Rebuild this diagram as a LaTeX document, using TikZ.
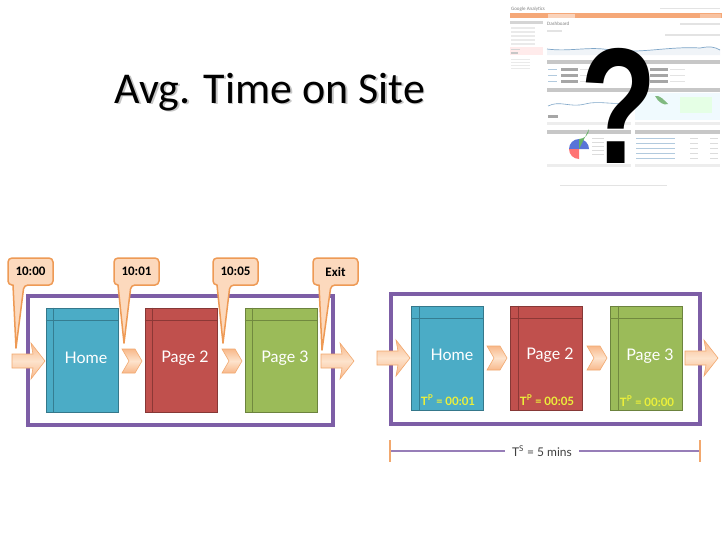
\documentclass[tikz,border=0pt]{standalone}
\usepackage{fontspec}
\setmainfont{Carlito}
\newfontfamily\pagefont{Lato}
\newfontfamily\qfont{Liberation Sans}
\usetikzlibrary{calc}
\definecolor{pblue}{HTML}{4BACC6}
\definecolor{pbluedk}{HTML}{357D91}
\definecolor{pred}{HTML}{C0504D}
\definecolor{preddk}{HTML}{8C3836}
\definecolor{pgreen}{HTML}{9BBB59}
\definecolor{pgreendk}{HTML}{71893F}
\definecolor{frame}{HTML}{7D5EA6}
\definecolor{arrowlt}{HTML}{FDE3CC}
\definecolor{arrowdk}{HTML}{F8B88A}
\definecolor{arrowbd}{HTML}{F2A86E}
\definecolor{callfill}{HTML}{FCD9BD}
\definecolor{callbd}{HTML}{EE9A55}
\definecolor{tpyellow}{HTML}{ECF03A}
\definecolor{gaorange}{HTML}{F5A878}
\definecolor{gagray}{HTML}{B9B9B9}
\definecolor{galine}{HTML}{7FA6C8}
\tikzset{
  pagebox/.style={draw=#1!70!black, line width=0.8pt, minimum width=72pt, minimum height=104pt, inner sep=0pt},
  pagelabel/.style={font=\pagefont\fontsize{16}{16}\selectfont, text=white},
  tplabel/.style={font=\pagefont\bfseries\fontsize{11.5}{12}\selectfont, text=tpyellow, inner sep=0pt},
  framebox/.style={draw=frame, line width=4.5pt},
  arrowshape/.style={draw=arrowbd, line width=0.6pt, top color=arrowdk, bottom color=arrowdk, middle color=arrowlt},
  callout/.style={draw=callbd, line width=1.5pt, fill=callfill, line join=round},
  calltext/.style={font=\bfseries\fontsize{13}{13}\selectfont},
  chev/.pic={\path[arrowshape] (0,-12) -- (13,-12) -- (20,0) -- (13,12) -- (0,12) -- (7,0) -- cycle;},
  bigarrow/.pic={\path[arrowshape] (0,-7) -- (21,-7) -- (19,-18) -- (33,0) -- (19,18) -- (21,7) -- (0,7) -- cycle;},
}
\newcommand{\innerlines}[2]{%
  \draw[#2, line width=0.8pt] ($(#1.north west)+(8,0)$) -- ($(#1.south west)+(8,0)$);
  \draw[#2, line width=0.8pt] ($(#1.north west)+(0,13)$) -- ($(#1.north east)+(0,13)$);}
\begin{document}
\begin{tikzpicture}[x=1pt,y=-1pt]
\useasboundingbox (0,0) rectangle (728,546);
\fill[white] (0,0) rectangle (728,546);

% ---------- dashboard screenshot ----------
\node[font=\fontsize{5}{5}\selectfont, text=gray, anchor=west, inner sep=0] (galogo) at (511,9) {Google Analytics};
\fill[gagray!40] (660,7.5) rectangle (720,9);
\fill[gaorange] (510,13) rectangle (722,18);
\fill[gaorange!50] (548,13.5) rectangle (575,17.5);
\fill[gaorange!70!white] (700,13.5) rectangle (721,17.5);
% sidebar
\fill[gagray!60] (510,21) rectangle (543,24);
\foreach \yy in {27,31,35,39,43} {\fill[gagray!30] (511,\yy) rectangle (535,\yy+1.5);}
\fill[red!8] (510,47) rectangle (543,55);
\fill[gagray!60] (511,49) rectangle (520,50);
\fill[gagray!80] (511,52) rectangle (518,54);
\foreach \yy in {59,62,65,68} {\fill[gagray!30] (511,\yy) rectangle (530,\yy+1.2);}
% main
\node[font=\fontsize{5}{5}\selectfont, text=gray, anchor=west, inner sep=0] (gadash) at (547,24) {Dashboard};
\fill[gagray!40] (547,30) rectangle (562,31.5);
\fill[gagray!40] (680,23) rectangle (720,24.5);
\fill[gagray!40] (665,34) rectangle (720,35.5);
\fill[galine!12] (547,49) .. controls (570,52) and (590,46) .. (610,50) .. controls (640,54) and (670,46) .. (700,48) .. controls (710,46) and (715,47) .. (720,50) -- (720,55) -- (547,55) -- cycle;
\draw[galine, line width=0.7pt] (547,49) .. controls (570,52) and (590,46) .. (610,50) .. controls (640,54) and (670,46) .. (700,48) .. controls (710,46) and (715,47) .. (720,50);
\fill[gagray!80] (547,60) rectangle (720,64);
\foreach \yy in {69,75,81} {
  \fill[galine!60] (548,\yy) rectangle (557,\yy+1.3);
  \fill[gray!70] (561,\yy-1.5) rectangle (578,\yy+2);
  \fill[gagray!40] (580,\yy) rectangle (590,\yy+1.3);
  \fill[galine!60] (636,\yy) rectangle (645,\yy+1.3);
  \fill[gray!70] (650,\yy-1.5) rectangle (668,\yy+2);
  \fill[gagray!40] (670,\yy) rectangle (685,\yy+1.3);
}
\fill[gagray!80] (547,88) rectangle (631,92);
\fill[gagray!80] (635,88) rectangle (720,92);
\draw[galine, line width=0.6pt] (548,106) .. controls (560,100) and (570,108) .. (585,104) .. controls (600,100) and (615,106) .. (630,102);
\fill[gray!70] (548,115) rectangle (558,117.5);
\fill[cyan!6] (635,93) rectangle (720,120);
\fill[green!45!black!50] (655,96) .. controls (660,95) and (664,100) .. (668,104) .. controls (664,106) and (658,102) .. (655,96);
\fill[green!10] (680,97) rectangle (712,113);
\fill[gagray!25] (547,122) rectangle (631,124.5);
\fill[gagray!25] (635,122) rectangle (720,124.5);
\fill[gagray!80] (547,130) rectangle (631,134);
\fill[gagray!80] (635,130) rectangle (720,134);
\fill[galine!70!blue] (579,149) -- (589,149) arc[start angle=0, end angle=-180, radius=10] -- cycle;
\fill[red!55] (579,149) -- (569,149) arc[start angle=180, end angle=90, radius=10] -- cycle;
\fill[green!50!black!60] (579,149) -- (579,139) arc[start angle=90, end angle=0, radius=10] -- cycle;
\foreach \yy in {138,142,146,150,154} {\fill[gagray!50] (592,\yy) rectangle (604,\yy+1.2);}
\foreach \yy in {138,143,148,153,158} {
  \fill[galine!60] (636,\yy) rectangle (675,\yy+1.2);
  \fill[gagray!50] (690,\yy) rectangle (698,\yy+1.2);
  \fill[gagray!50] (710,\yy) rectangle (718,\yy+1.2);}
\fill[gagray!25] (547,164) rectangle (631,167);
\fill[gagray!25] (635,164) rectangle (720,167);
\fill[gagray!40] (560,185) rectangle (667,186.3);
% question mark
\node[font=\qfont\bfseries\fontsize{165}{165}\selectfont, anchor=base, inner sep=0, text=black] (qm) at (619,163) {\scalebox{0.76}[1]{?}};

% ---------- title ----------
\node[font=\fontsize{44}{44}\selectfont, anchor=base, text=gray!45, inner sep=0] (titleshadow) at (271.5,104.5) {Avg. Time on Site};
\node[font=\fontsize{44}{44}\selectfont, anchor=base, inner sep=0] (title) at (270,103) {Avg. Time on Site};

% ---------- left diagram ----------
\draw[framebox] (28,296) rectangle (333,425);
\node[pagebox=pblue, fill=pblue] (lhome) at (82,360) {};
\node[pagebox=pred, fill=pred] (lp2) at (181,360) {};
\node[pagebox=pgreen, fill=pgreen] (lp3) at (281,360) {};
\innerlines{lhome}{pbluedk}
\innerlines{lp2}{preddk}
\innerlines{lp3}{pgreendk}
\node[pagelabel] (lhomet) at (86,358) {Home};
\node[pagelabel] (lp2t) at (185,358) {Page 2};
\node[pagelabel] (lp3t) at (285,358) {Page 3};
\pic (la1) at (12,361) {bigarrow};
\pic (la2) at (122,361) {chev};
\pic (la3) at (222,361) {chev};
\pic (la4) at (321,361) {bigarrow};

% callouts
\path[callout] (30,258) [rounded corners=4pt] -- (53,258) -- (53,285) -- (24,285) [sharp corners] -- (16,348) -- (13,285) [rounded corners=4pt] -- (8,285) -- (8,258) -- cycle;
\node[calltext] (c1) at (30.5,271.5) {10:00};
\path[callout] (136,258) [rounded corners=4pt] -- (159,258) -- (159,285) -- (131,285) [sharp corners] -- (124,343) -- (118,285) [rounded corners=4pt] -- (114,285) -- (114,258) -- cycle;
\node[calltext] (c2) at (136.5,271.5) {10:01};
\path[callout] (235,258) [rounded corners=4pt] -- (258,258) -- (258,285) -- (230,285) [sharp corners] -- (223,343) -- (217,285) [rounded corners=4pt] -- (213,285) -- (213,258) -- cycle;
\node[calltext] (c3) at (235.5,271.5) {10:05};
\path[callout] (335,258) [rounded corners=4pt] -- (358,258) -- (358,285) -- (331,285) [sharp corners] -- (322,350) -- (319,285) [rounded corners=4pt] -- (313,285) -- (313,258) -- cycle;
\node[calltext] (c4) at (335.5,271.5) {Exit};

% ---------- right diagram ----------
\draw[framebox] (391,294) rectangle (700,424);
\node[pagebox=pblue, fill=pblue] (rhome) at (447.5,358) {};
\node[pagebox=pred, fill=pred] (rp2) at (546.5,358) {};
\node[pagebox=pgreen, fill=pgreen] (rp3) at (646.5,358) {};
\innerlines{rhome}{pbluedk}
\innerlines{rp2}{preddk}
\innerlines{rp3}{pgreendk}
\node[pagelabel] (rhomet) at (452,355) {Home};
\node[pagelabel] (rp2t) at (550,355) {Page 2};
\node[pagelabel] (rp3t) at (650,356) {Page 3};
\node[tplabel] (tp1) at (448,400) {T\textsuperscript{P} = 00:01};
\node[tplabel] (tp2) at (547,400) {T\textsuperscript{P} = 00:05};
\node[tplabel] (tp3) at (647,401) {T\textsuperscript{P} = 00:00};
\pic (ra1) at (377,358) {bigarrow};
\pic (ra2) at (487,358) {chev};
\pic (ra3) at (587,358) {chev};
\pic (ra4) at (685,358) {bigarrow};

% total time bar
\coordinate (tsl) at (390,451);
\coordinate (tsr) at (700,451);
\node[font=\pagefont\fontsize{12}{12}\selectfont, text=black!75, fill=white, inner xsep=7pt] (ts) at (542,451) {T\textsuperscript{S} = 5 mins};
\draw[frame!80, line width=1.3pt] (tsl) -- (ts);
\draw[frame!80, line width=1.3pt] (ts) -- (tsr);
\draw[arrowbd, line width=1.5pt] ($(tsl)+(0,-11)$) -- ($(tsl)+(0,11)$);
\draw[arrowbd, line width=1.5pt] ($(tsr)+(0,-11)$) -- ($(tsr)+(0,11)$);
\end{tikzpicture}
\end{document}
